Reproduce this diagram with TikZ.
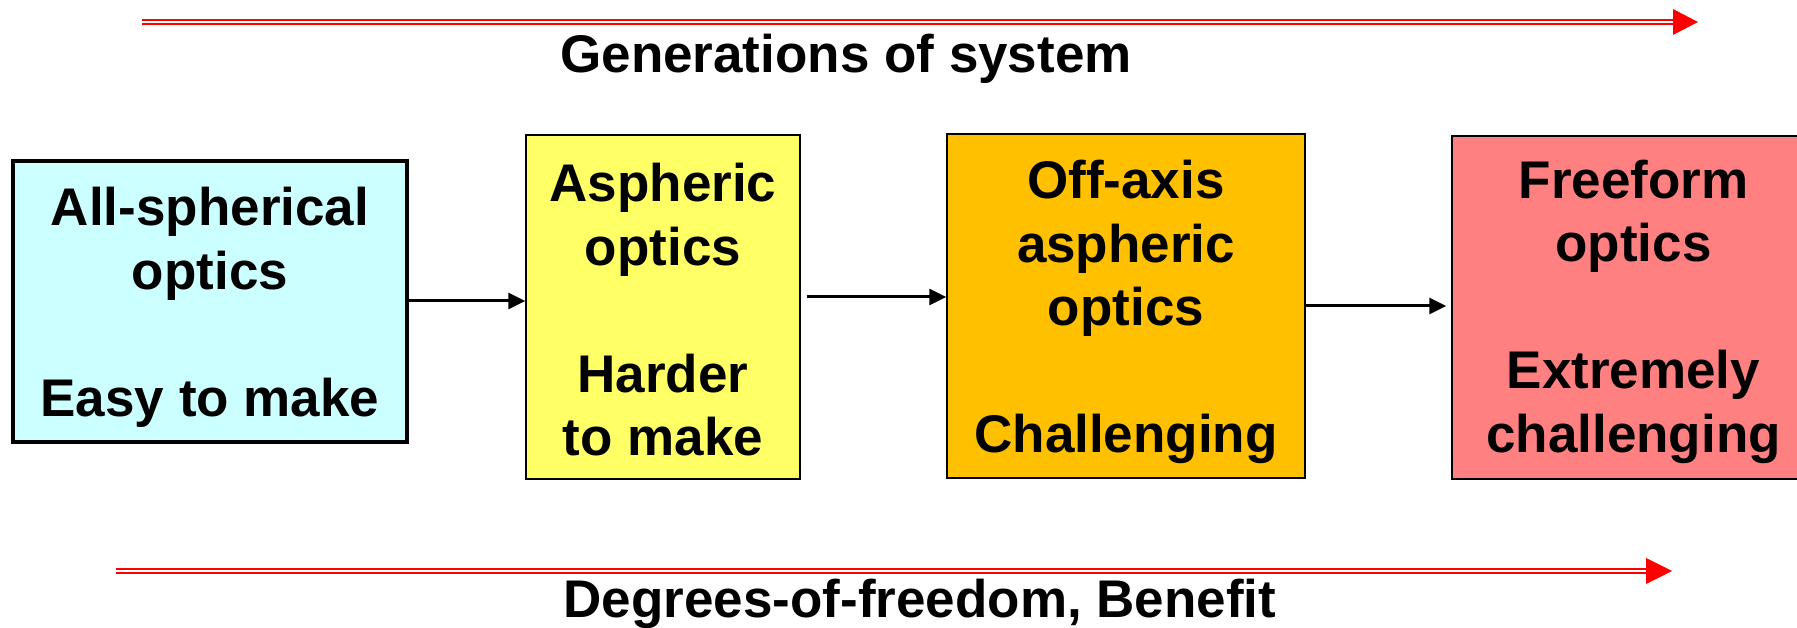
\documentclass[tikz,border=0pt]{standalone}
\usepackage{fontspec}
\setmainfont{Liberation Sans}
\usetikzlibrary{arrows.meta,calc}
\definecolor{cyanbox}{HTML}{CCFFFF}
\definecolor{yellowbox}{HTML}{FFFF66}
\definecolor{orangebox}{HTML}{FFC000}
\definecolor{redbox}{HTML}{FF8080}
\definecolor{arrowred}{HTML}{FF0000}
\tikzset{
  optbox/.style={draw=black, line width=1.5pt, inner sep=0pt},
  boxtext/.style={inner sep=0pt, align=center,
    font=\fontsize{53}{63.5}\selectfont\bfseries},
  biglabel/.style={anchor=base, inner sep=0pt, font=\fontsize{53}{63}\selectfont\bfseries},
  flowarrow/.style={draw=black, line width=3pt, -{Triangle[length=17pt,width=16pt]}},
  redline/.style={draw=arrowred, double=white, double distance=2pt, line width=2pt},
}
\begin{document}
\begin{tikzpicture}[x=1pt,y=-1pt]
\useasboundingbox (0,0) rectangle (1797,628);
% top generations arrow
\coordinate (ts) at (142,22);
\coordinate (te) at (1673,22);
\draw[redline] (ts) -- (te);
\fill[arrowred] (te) ++(0,-13) -- ++(25,13) -- ++(-25,13) -- cycle;
\node[biglabel] (gen) at (846,73) {Generations of system};
% boxes
\node[optbox, fill=cyanbox, line width=3.5pt, minimum width=394pt, minimum height=281pt] (b1) at (210,301.5) {};
\node[optbox, fill=yellowbox, minimum width=274pt, minimum height=344pt] (b2) at (663,307) {};
\node[optbox, fill=orangebox, minimum width=358pt, minimum height=344pt] (b3) at (1126,306) {};
\node[optbox, fill=redbox, minimum width=363pt, minimum height=343pt] (b4) at (1633.5,307.5) {};
% box texts
\node[boxtext] (t1) at ($(b1.center)+(0,6)$) {All-spherical\\optics\\[63.5pt]Easy to make};
\node[boxtext] (t2) at ($(b2.center)+(0,3)$) {Aspheric\\optics\\[63.5pt]Harder\\to make};
\node[boxtext] (t3) at ($(b3.center)+(0,6)$) {Off-axis\\aspheric\\optics\\[63.5pt]Challenging};
\node[boxtext] (t4) at ($(b4.center)+(0,4)$) {Freeform\\optics\\[63.5pt]Extremely\\challenging};
% flow arrows
\coordinate (a1s) at ($(b1.east)+(0,-0.5)$);
\draw[flowarrow] (a1s) -- (a1s -| b2.west);
\coordinate (a2s) at ($(b2.east)+(6,-10)$);
\draw[flowarrow] (a2s) -- (a2s -| b3.west);
\draw[flowarrow, shorten >=5pt] (b3.east) -- (b3.east -| b4.west);
% bottom arrow
\coordinate (bs) at (116,571);
\coordinate (be) at (1646,571);
\draw[redline] (bs) -- (be);
\fill[arrowred] (be) ++(0,-13) -- ++(26,13) -- ++(-26,13) -- cycle;
\node[biglabel] (dof) at (920,617) {Degrees-of-freedom, Benefit};
\end{tikzpicture}
\end{document}
